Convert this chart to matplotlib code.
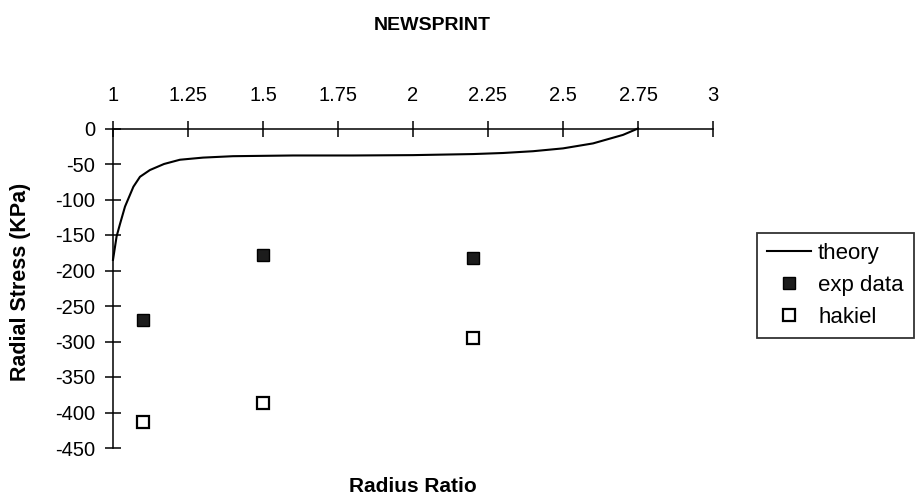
import matplotlib
matplotlib.use("Agg")
import matplotlib.pyplot as plt

plt.rcParams['font.family'] = ['Liberation Sans', 'DejaVu Sans']
plt.rcParams['axes.unicode_minus'] = False

# Theoretical radial stress profile through the roll
theory_ratio = [1.0, 1.012, 1.023, 1.04, 1.068, 1.09, 1.123, 1.17, 1.223, 1.3,
                1.4, 1.6, 1.8, 2.0, 2.2, 2.3, 2.4, 2.5, 2.6, 2.7, 2.75]
theory_stress = [-185, -152, -135, -110, -82, -68, -58.5, -50, -44, -41,
                 -39, -38, -38, -37.5, -36, -34.5, -32, -28, -21, -9, 0]

# Measured and Hakiel-model values
point_ratio = [1.1, 1.5, 2.2]
exp_stress = [-270, -178, -183]
hakiel_stress = [-414, -386, -295]

x_ticks = [1, 1.25, 1.5, 1.75, 2, 2.25, 2.5, 2.75, 3]
x_tick_labels = ['1', '1.25', '1.5', '1.75', '2', '2.25', '2.5', '2.75', '3']
y_ticks = [0, -50, -100, -150, -200, -250, -300, -350, -400, -450]

fig = plt.figure(figsize=(9.15, 5.03), dpi=100)
ax = fig.add_axes([113 / 915, 55 / 503, 600 / 915, 319.5 / 503])

ax.plot(theory_ratio, theory_stress, color='black', lw=1.5, label='theory',
        clip_on=False, zorder=3)
ax.plot(point_ratio, exp_stress, ls='none', marker='s', ms=8.5,
        mfc='#1c1c1c', mec='black', mew=1.0, label='exp data', clip_on=False)
ax.plot(point_ratio, hakiel_stress, ls='none', marker='s', ms=8.5,
        mfc='white', mec='black', mew=1.6, label='hakiel', clip_on=False)

ax.set_xlim(1, 3)
ax.set_ylim(-450, 0)

# X axis runs along the zero line at the top, Y axis at ratio 1
for side in ('right', 'bottom'):
    ax.spines[side].set_visible(False)
for side in ('top', 'left'):
    ax.spines[side].set_linewidth(1.1)

ax.xaxis.tick_top()
ax.set_xticks(x_ticks)
ax.set_xticklabels(x_tick_labels)
ax.set_yticks(y_ticks)
ax.tick_params(axis='x', direction='inout', length=11.5, width=1.1,
               pad=11, labelsize=14.5)
ax.tick_params(axis='y', direction='inout', length=11.5, width=1.1,
               pad=7, labelsize=14.5)

fig.text(413 / 915, 1 - 487 / 503, 'Radius Ratio', ha='center', va='center',
         fontsize=15, fontweight='bold')
fig.text(21 / 915, 1 - 282 / 503, 'Radial Stress (KPa)', ha='center',
         va='center', rotation=90, fontsize=15.5, fontweight='bold')
fig.text(432 / 915, 1 - 25 / 503, 'NEWSPRINT', ha='center', va='center',
         fontsize=14, fontweight='bold')

leg = fig.legend(loc='upper left', bbox_to_anchor=(757 / 915, 1 - 233 / 503),
                 frameon=True, fancybox=False, fontsize=16,
                 handlelength=2.0, handletextpad=0.3, borderaxespad=0,
                 borderpad=0.45, labelspacing=0.5)
frame = leg.get_frame()
frame.set_edgecolor('black')
frame.set_linewidth(1.3)

fig.savefig('out.png', dpi=100)
